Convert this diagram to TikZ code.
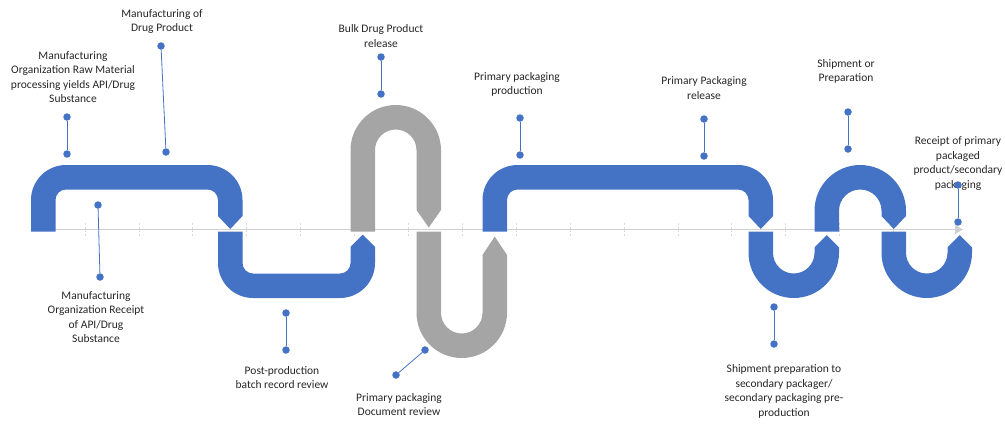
\documentclass[tikz,border=0pt]{standalone}
\usepackage{fontspec}
\setmainfont{Carlito}
\usetikzlibrary{arrows.meta}
\definecolor{rblue}{HTML}{4472C4}
\definecolor{rgray}{HTML}{A5A5A5}
\definecolor{axisc}{HTML}{D0D0D0}
\definecolor{tickc}{HTML}{D9D9D9}
\definecolor{txt}{HTML}{262626}
\begin{document}
\begin{tikzpicture}[x=1pt,y=-1pt,
  lbl/.style={font=\fontsize{11.5pt}{14.5pt}\selectfont, align=center, text=txt, inner sep=0pt},
  dot/.style={circle, fill=rblue, inner sep=0pt, minimum size=7.5pt},
  stem/.style={draw=rblue, line width=0.8pt},
  ribblue/.style={fill=rblue},
  ribgray/.style={fill=rgray},
  tickmark/.style={draw=tickc, dash pattern=on 2pt off 1.5pt, line width=0.7pt},
  axisline/.style={draw=axisc, line width=1.3pt, -{Triangle[length=8pt,width=9pt]}}]
\useasboundingbox (0,0) rectangle (1005,424);

% axis and ticks
\coordinate (ax0) at (31,229.5);
\coordinate (ax1) at (963,229.5);
\foreach \k in {0,...,15}{
  \draw[tickmark] ({85+53.9*\k},223) -- ({85+53.9*\k},236);
}
\draw[axisline] (ax0) -- (ax1);

% segment 1 (blue, upper, flat)
\fill[ribblue] (31,231.5) -- (31,200) arc[start angle=180,end angle=270,radius=35]
  -- (207.5,165) arc[start angle=270,end angle=360,radius=35]
  -- (242.5,216) -- (230.25,229) -- (218,216) -- (218,200)
  arc[start angle=0,end angle=-90,radius=10.5]
  -- (66,189.5) arc[start angle=270,end angle=180,radius=10.5]
  -- (55.5,231.5) -- cycle;
% segment 2 (blue, lower, flat)
\fill[ribblue] (218,231.5) -- (242.5,231.5) -- (242.5,263)
  arc[start angle=180,end angle=90,radius=10.5]
  -- (340,273.5) arc[start angle=90,end angle=0,radius=10.5]
  -- (350.5,247) -- (362.75,234.5) -- (375,247) -- (375,263)
  arc[start angle=0,end angle=90,radius=35]
  -- (253,298) arc[start angle=90,end angle=180,radius=35] -- cycle;
% segment 3 (gray, upper, round)
\fill[ribgray] (350.5,231.5) -- (350.5,150.25)
  arc[start angle=180,end angle=360,radius=45.25]
  -- (441,210) -- (428.75,227.5) -- (416.5,210) -- (416.5,150.25)
  arc[start angle=0,end angle=-180,radius=20.75]
  -- (375,231.5) -- cycle;
% segment 4 (gray, lower, round)
\fill[ribgray] (416.5,231.5) -- (441,231.5) -- (441,312.75)
  arc[start angle=180,end angle=0,radius=20.75]
  -- (482.5,255) -- (494.75,236.5) -- (507,255) -- (507,312.75)
  arc[start angle=0,end angle=180,radius=45.25] -- cycle;
% segment 5 (blue, upper, flat)
\fill[ribblue] (482.5,231.5) -- (482.5,200) arc[start angle=180,end angle=270,radius=35]
  -- (738,165) arc[start angle=270,end angle=360,radius=35]
  -- (773,216) -- (760.75,229) -- (748.5,216) -- (748.5,200)
  arc[start angle=0,end angle=-90,radius=10.5]
  -- (517.5,189.5) arc[start angle=270,end angle=180,radius=10.5]
  -- (507,231.5) -- cycle;
% segment 6 (blue, lower, round)
\fill[ribblue] (748.5,231.5) -- (773,231.5) -- (773,252.75)
  arc[start angle=180,end angle=0,radius=20.75]
  -- (814.5,247.5) -- (826.75,235) -- (839,247.5) -- (839,252.75)
  arc[start angle=0,end angle=180,radius=45.25] -- cycle;
% segment 7 (blue, upper, round)
\fill[ribblue] (814.5,231.5) -- (814.5,210.75)
  arc[start angle=180,end angle=360,radius=45.75]
  -- (906,216) -- (893.75,229) -- (881.5,216) -- (881.5,210.75)
  arc[start angle=0,end angle=-180,radius=21.25]
  -- (839,231.5) -- cycle;
% segment 8 (blue, lower, round)
\fill[ribblue] (881.5,231.5) -- (906,231.5) -- (906,252.75)
  arc[start angle=180,end angle=0,radius=20.75]
  -- (947.5,247.5) -- (959.75,235) -- (972,247.5) -- (972,252.75)
  arc[start angle=0,end angle=180,radius=45.25] -- cycle;

% labels
\node[lbl] (t1) at (73,77) {Manufacturing\\Organization Raw Material\\processing yields API/Drug\\Substance};
\node[lbl] (t2) at (162,21.5) {Manufacturing of\\Drug Product};
\node[lbl] (t3) at (96,317) {Manufacturing\\Organization Receipt\\of API/Drug\\Substance};
\node[lbl] (t4) at (282,377.5) {Post-production\\batch record review};
\node[lbl] (t5) at (399,404.5) {Primary packaging\\Document review};
\node[lbl] (t6) at (381,36) {Bulk Drug Product\\release};
\node[lbl] (t7) at (517,84.5) {Primary packaging\\production};
\node[lbl] (t8) at (704,88) {Primary Packaging\\release};
\node[lbl] (t9) at (846,71.5) {Shipment or\\Preparation};
\node[lbl] (t10) at (958,163.5) {Receipt of primary\\packaged\\product/secondary\\packaging};
\node[lbl] (t11) at (784,391.5) {Shipment preparation to\\secondary packager/\\secondary packaging pre-\\production};

% markers
\node[dot] (m1a) at (67,117) {}; \node[dot] (m1b) at (67,154) {};
\node[dot] (m2a) at (161,46) {}; \node[dot] (m2b) at (166,152) {};
\node[dot] (m3a) at (98,205) {}; \node[dot] (m3b) at (100,277) {};
\node[dot] (m4a) at (286,313) {}; \node[dot] (m4b) at (286,350) {};
\node[dot] (m5a) at (425,350) {}; \node[dot] (m5b) at (396,375) {};
\node[dot] (m6a) at (381,57) {}; \node[dot] (m6b) at (381,94) {};
\node[dot] (m7a) at (520,118) {}; \node[dot] (m7b) at (520,155) {};
\node[dot] (m8a) at (704,119) {}; \node[dot] (m8b) at (704,156) {};
\node[dot] (m9a) at (848,112) {}; \node[dot] (m9b) at (848,149) {};
\node[dot] (m10a) at (958,185) {}; \node[dot] (m10b) at (958,222) {};
\node[dot] (m11a) at (774,307) {}; \node[dot] (m11b) at (774,344) {};
\foreach \m in {1,...,11}{
  \draw[stem] (m\m a) -- (m\m b);
}
\end{tikzpicture}
\end{document}
